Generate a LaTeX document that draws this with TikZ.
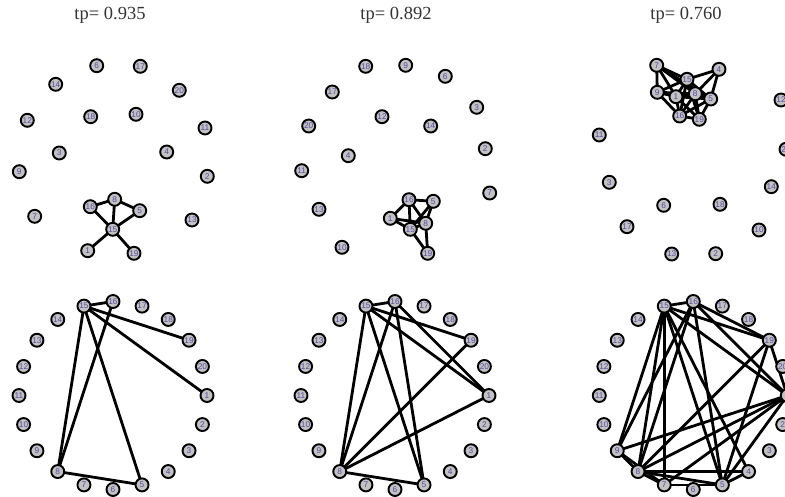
\documentclass[tikz,border=0pt]{standalone}
\usepackage{fontspec}
\setmainfont{Liberation Serif}
\newfontfamily\labfont{Liberation Sans}
\begin{document}
\begin{tikzpicture}[x=1pt,y=-1pt,
  vtx/.style={circle,draw=black,line width=1.9pt,fill=black!24,minimum size=13pt,inner sep=0pt,
    font=\labfont\fontsize{8.3}{8.3}\selectfont,text=labcol},
  edg/.style={line width=2.8pt,black},
  ttl/.style={font=\fontsize{18.5}{19}\selectfont,text=black!80,inner sep=0pt}]
\definecolor{labcol}{RGB}{85,75,160}
\useasboundingbox (0,0) rectangle (785,497);
\clip (0,0) rectangle (785,497);
% titles
\node[ttl] (t1) at (110,15) {tp= 0.935};
\node[ttl] (t2) at (396,15) {tp= 0.892};
\node[ttl] (t3) at (686,15) {tp= 0.760};
% ---------- top left ----------
\begin{scope}
\foreach \n/\x/\y in {6/96.7/65.7,17/140.3/66.3,14/55.7/84.3,20/179.3/90.3,12/27.3/120.3,18/90.7/116.7,10/136/114.3,11/205/128,3/59.3/153,4/166.7/152,9/19.3/171.7,2/207.3/176.3,16/90.3/206.7,8/114.7/199.3,5/139.7/210.7,7/34.7/216.3,13/192/220,15/112.7/229.3,1/87.7/250.7,19/134/253.3}
  \coordinate (a\n) at (\x,\y);
\foreach \u/\v in {16/8,8/5,16/15,8/15,5/15,15/1,15/19}
  \draw[edg] (a\u) -- (a\v);
\foreach \n in {1,...,20} \node[vtx] (na\n) at (a\n) {\n};
\end{scope}
% ---------- top middle ----------
\begin{scope}
\foreach \n/\x/\y in {18/365.7/66.3,9/405.7/65.3,6/445.3/76.3,17/332.3/92,3/476.7/107.3,12/382/116.7,20/308.7/126,14/430.7/126,2/485.3/148.7,4/348.3/155.7,11/301.7/170.7,7/489.7/193,16/409/199.7,5/433.3/201.3,13/319/209.3,1/390.3/218.3,8/425.7/223.3,15/410.3/229.3,10/342/247.3,19/427.7/253.3}
  \coordinate (b\n) at (\x,\y);
\foreach \u/\v in {16/5,1/16,16/15,16/8,5/8,5/15,1/15,1/8,15/19,8/19,15/8}
  \draw[edg] (b\u) -- (b\v);
\foreach \n in {1,...,20} \node[vtx] (nb\n) at (b\n) {\n};
\end{scope}
% ---------- top right ----------
\begin{scope}
\foreach \n/\x/\y in {7/656.7/65.3,4/719/69.3,15/687/79.3,9/657.3/92.3,1/676/96.7,8/695.3/93.7,5/710.7/99,16/679.7/116,19/699.3/119.3,12/781/100,20/786/149.3,11/599.3/135,3/609.3/182.3,14/771.3/186.7,6/663.7/205.3,18/720/204.3,17/627/226.7,10/759/230,13/671.7/254,2/715.7/253.7}
  \coordinate (c\n) at (\x,\y);
\foreach \u/\v in {15/16,15/9,15/8,15/7,15/5,15/4,15/19,15/1,16/8,16/5,16/19,16/1,16/9,19/8,19/5,19/1,1/9,1/8,1/5,1/7,8/9,8/7,8/4,8/5,9/7,7/5,5/4}
  \draw[edg] (c\u) -- (c\v);
\foreach \n in {1,...,20} \node[vtx] (nc\n) at (c\n) {\n};
\end{scope}
% ---------- bottom circles ----------
\foreach \p/\cx in {d/113,e/395,f/693.3}{
  \foreach \n in {1,...,20}
    \coordinate (\p\n) at ({\cx+94*cos(-(\n-1)*18)},{395.5-94*sin(-(\n-1)*18)});
}
\foreach \u/\v in {15/16,15/8,15/5,15/19,15/1,16/8,8/5}
  \draw[edg] (d\u) -- (d\v);
\foreach \u/\v in {15/16,15/8,15/5,15/19,15/1,16/8,16/5,16/1,8/19,8/1,8/5}
  \draw[edg] (e\u) -- (e\v);
\foreach \u/\v in {15/16,15/9,15/8,15/7,15/5,15/4,15/19,15/1,16/8,16/5,16/19,16/1,16/9,19/8,19/5,19/1,1/9,1/8,1/5,1/7,8/9,8/7,8/4,8/5,9/7,7/5,5/4}
  \draw[edg] (f\u) -- (f\v);
\foreach \p in {d,e,f}{
  \foreach \n in {1,...,20} \node[vtx] (n\p\n) at (\p\n) {\n};
}
\end{tikzpicture}
\end{document}
